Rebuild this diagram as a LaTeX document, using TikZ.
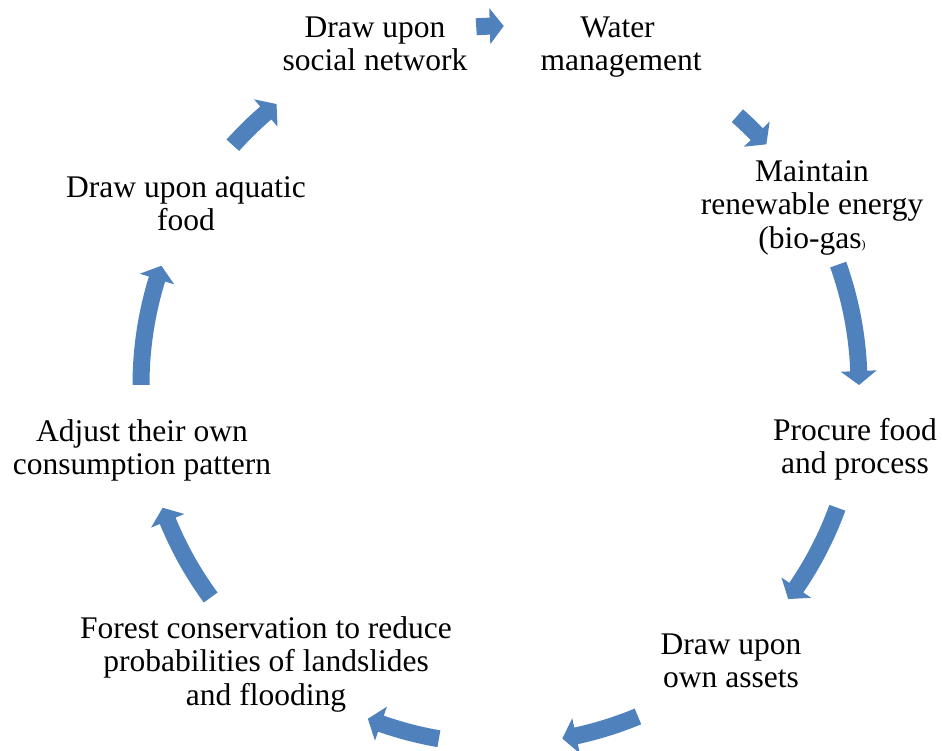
\documentclass[tikz,border=0pt]{standalone}
\usepackage{fontspec}
\setmainfont{Liberation Serif}
\definecolor{cycleblue}{RGB}{79,129,189}
% fixed first-line height, so every label's first baseline sits 24pt below its top
\newcommand{\firstline}{\rule{0pt}{24pt}}
\begin{document}
\begin{tikzpicture}[x=1pt,y=1pt,
  steplabel/.style={anchor=north, inner sep=0pt, align=center,
    font=\fontsize{31.5}{33.5}\selectfont},
  cyclearrow/.style={fill=cycleblue}]
\useasboundingbox (0,0) rectangle (942,750);
\clip (0,0) rectangle (942,750);

% cycle steps
\node[steplabel] (social)  at (375,737) {\firstline Draw upon\\social network};
\node[steplabel] (water)   at (621,737) {\firstline Water\kern7pt\\management};
\node[steplabel] (energy)  at (812,593) {\firstline Maintain\\renewable energy\\(bio-gas{\fontsize{12}{12}\selectfont)}};
\node[steplabel] (procure) at (855,334) {\firstline Procure food\\and process};
\node[steplabel] (assets)  at (731,120) {\firstline Draw upon\\own assets};
\node[steplabel] (forest)  at (266,136) {\firstline Forest conservation to reduce\\probabilities of landslides\\and flooding};
\node[steplabel] (adjust)  at (142,333) {\firstline Adjust their own\\consumption pattern};
\node[steplabel] (aquatic) at (186,577) {\firstline Draw upon aquatic\\food};

% curved block arrows running clockwise round the cycle
\begin{scope}[shift={(500,365)}]
\foreach \s/\e in {93.8/89.4, 48.6/42.1, 19.6/0, -20/-36.6, -67.4/-80,
                   260.2/248.4, 216.3/200, 180/160.6, 138.1/128.5}{
  \pgfmathsetmacro{\h}{\e+2.23}
  \fill[cyclearrow] (\s:367.5) arc[start angle=\s, end angle=\h, radius=367.5]
    -- (\h:377) -- (\e:359) -- (\h:341) -- (\h:350.5)
    arc[start angle=\h, end angle=\s, radius=350.5] -- cycle;
}
\end{scope}
\end{tikzpicture}
\end{document}
